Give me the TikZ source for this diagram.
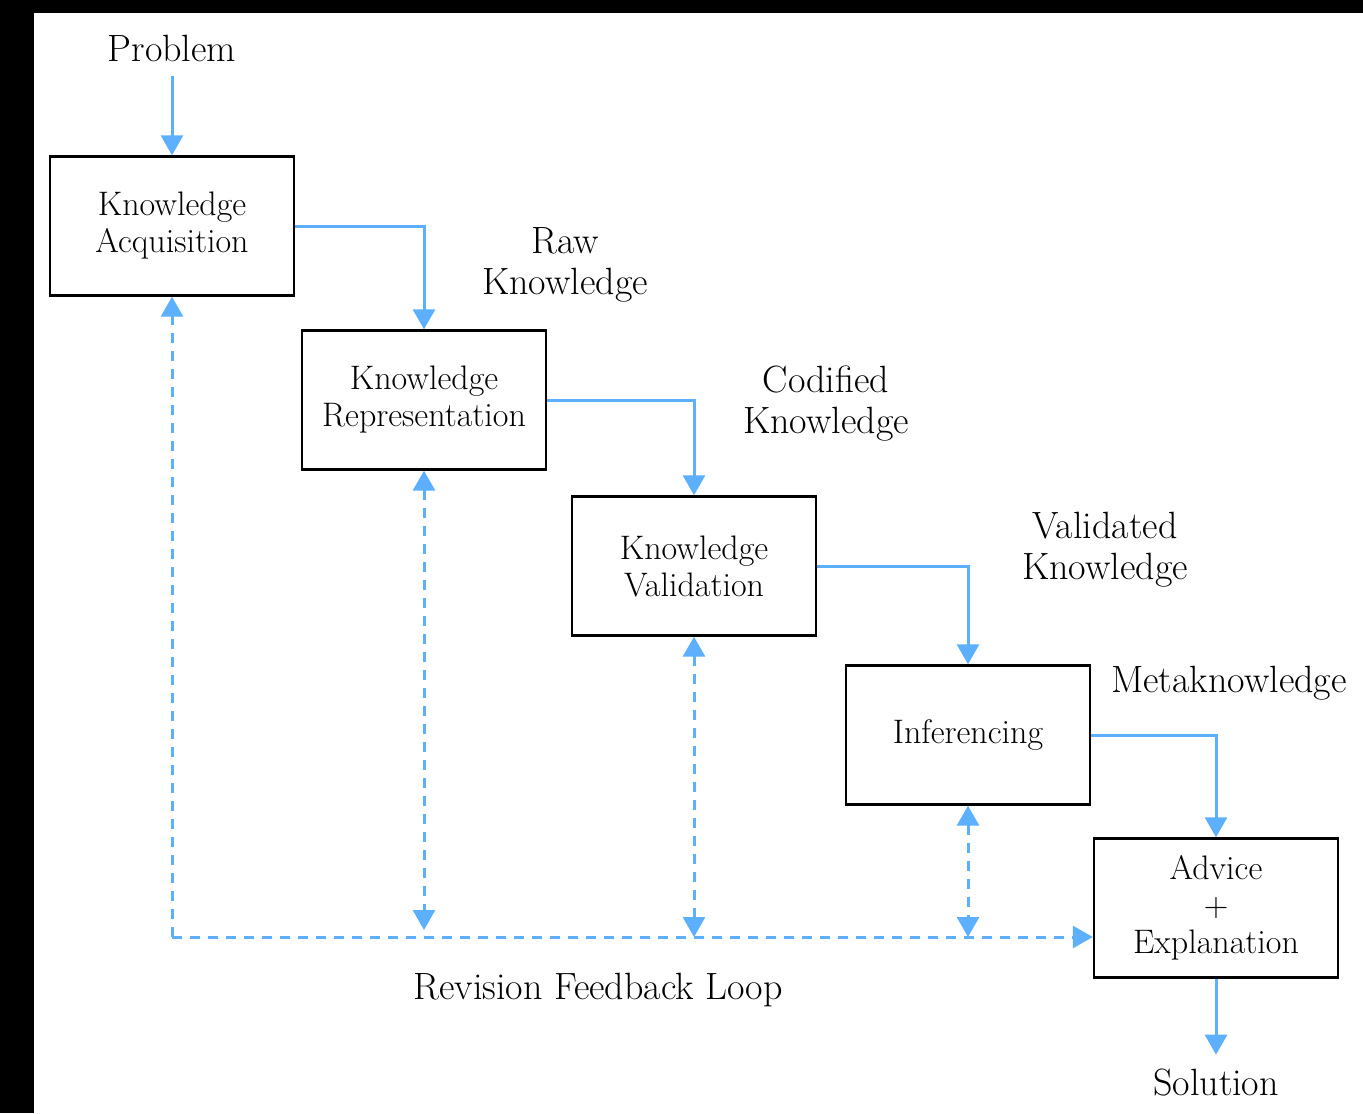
\documentclass[tikz,border=0pt]{standalone}
\usepackage{tikz}
\usetikzlibrary{arrows.meta,positioning,calc}
\definecolor{loopblue}{RGB}{92,176,255}

\begin{document}
\begin{tikzpicture}[
    x=0.5pt, y=-0.5pt,
    box/.style={rectangle, draw=black, line width=1.2pt, fill=white, align=center, minimum width=122pt, minimum height=69.5pt, inner sep=0pt, font=\fontsize{17}{18.5}\selectfont},
    lbl/.style={align=center, inner sep=0pt, font=\fontsize{19}{20.5}\selectfont},
    arrow/.style={-{Triangle[width=11pt,length=10pt]}, line width=1.5pt, loopblue},
    dasharrow/.style={arrow, dash pattern=on 5pt off 4pt}
]
    % frame
    \fill[black] (0,0) rectangle (1363,1113);
    \fill[white] (34,13) rectangle (1363,1113);
    \useasboundingbox (0,0) rectangle (1363,1113);

    \node[lbl] (problem) at (172,48) {Problem};
    \node[box] (acq) at (172,226) {Knowledge\\Acquisition};
    \node[box] (repr) at (424,400) {Knowledge\\Representation};
    \node[box] (valid) at (694,566) {Knowledge\\Validation};
    \node[box] (infer) at (968,735) {Inferencing};
    \node[box] (advice) at (1216,908) {Advice\\+\\Explanation};
    \node[lbl] (solution) at (1216,1083) {Solution};

    \node[lbl] (rawlbl) at (565,265) {Raw\\Knowledge};
    \node[lbl] (codlbl) at (826,404) {Codified\\Knowledge};
    \node[lbl] (vallbl) at (1105,550) {Validated\\Knowledge};
    \node[lbl] (metalbl) at (1229,683) {Metaknowledge};
    \node[lbl] (looplbl) at (598,990) {Revision Feedback Loop};

    \coordinate (loop) at (172,937);

    \draw[arrow] (problem.south) ++(0,14) -- (acq.north);
    \draw[arrow] (acq.east) -| (repr.north);
    \draw[arrow] (repr.east) -| (valid.north);
    \draw[arrow] (valid.east) -| (infer.north);
    \draw[arrow] (infer.east) -| (advice.north);
    \draw[arrow] (advice.south) -- ++(0,76);

    % revision loop
    \draw[dasharrow] (loop) -- (acq.south);
    \draw[dasharrow] (loop) -- (loop -| advice.west);
    \draw[dasharrow, {Triangle[width=11pt,length=10pt]}-{Triangle[width=11pt,length=10pt]}] (repr.south) -- ($(repr.south |- loop)+(0,-7)$);
    \draw[dasharrow, {Triangle[width=11pt,length=10pt]}-{Triangle[width=11pt,length=10pt]}] (valid.south) -- (valid.south |- loop);
    \draw[dasharrow, {Triangle[width=11pt,length=10pt]}-{Triangle[width=11pt,length=10pt]}] (infer.south) -- (infer.south |- loop);
\end{tikzpicture}
\end{document}
